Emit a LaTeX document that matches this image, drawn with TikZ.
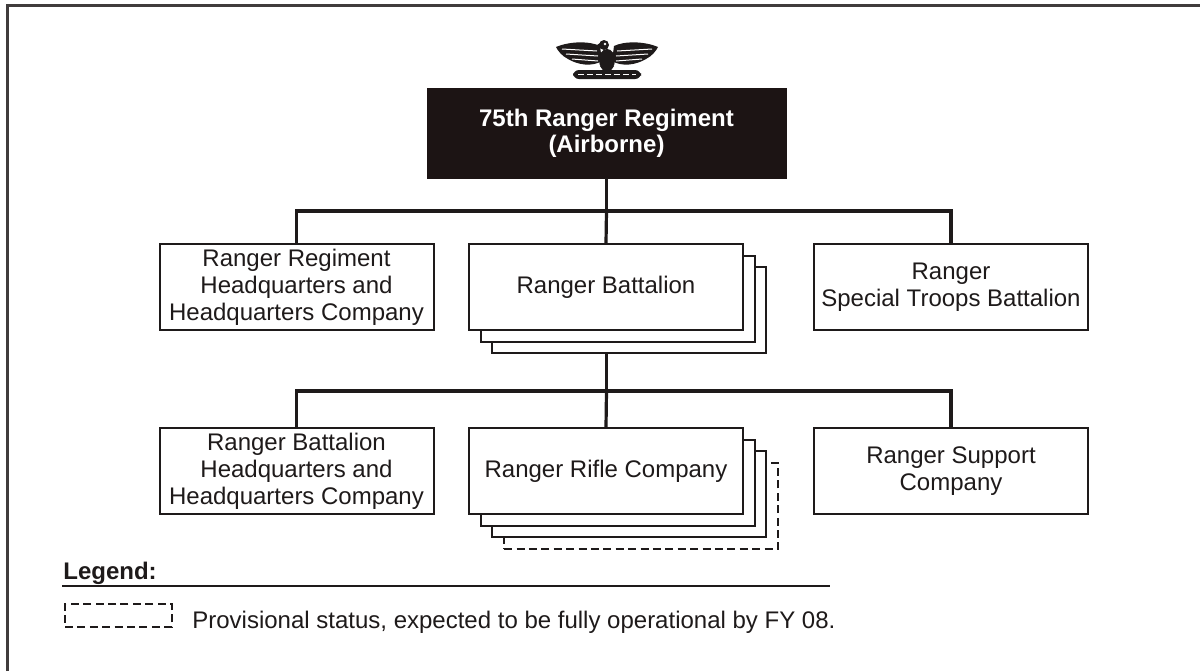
\documentclass[tikz,border=0pt]{standalone}
\usepackage{fontspec}
\setmainfont{Liberation Sans}
\definecolor{ink}{RGB}{30,26,26}
\definecolor{boxdark}{RGB}{28,20,20}
\begin{document}
\begin{tikzpicture}[x=0.5pt,y=-0.5pt,
  font=\fontsize{12}{13.5}\selectfont,
  unitbox/.style={draw=ink, line width=1pt, fill=white, minimum width=137pt, minimum height=43pt, inner sep=0pt, align=center, text=ink},
  backbox/.style={draw=ink, line width=1pt, fill=white, minimum width=137pt, minimum height=43pt, inner sep=0pt},
  provbox/.style={draw=ink, line width=1pt, dash pattern=on 4pt off 2.2pt, fill=white, minimum width=137pt, minimum height=43pt, inner sep=0pt},
  conn/.style={draw=ink, line width=1.6pt},
  frameline/.style={draw=ink!85, line width=1.5pt}]
\useasboundingbox (0,0) rectangle (1200,671);
\fill[white] (0,0) rectangle (1200,671);
% frame
\coordinate (fa) at (7,671);
\coordinate (fb) at (7,5);
\coordinate (fc) at (1200,5);
\draw[frameline] (fa) -- (fb) -- (fc);

% eagle insignia
\begin{scope}[ink]
\fill (556,47) .. controls (570,41) and (590,41) .. (600,46) -- (602,61) .. controls (592,67) and (578,65) .. (568,59) .. controls (562,56) and (558,51) .. cycle;
\fill (658,47) .. controls (644,41) and (624,41) .. (614,46) -- (612,61) .. controls (622,67) and (636,65) .. (646,59) .. controls (652,56) and (656,51) .. cycle;
\fill (607,60) ellipse (8 and 11);
\fill (604,45) circle (5);
\fill (600,43) -- (594,47) -- (601,48) -- cycle;
\fill (600,66) -- (614,66) -- (607,76) -- cycle;
\fill[rounded corners=3] (573,70) rectangle (641,79);
\end{scope}
\begin{scope}[white, line width=0.5pt]
\draw (562,49) -- (597,51);
\draw (566,54) -- (598,56);
\draw (572,59) -- (598,61);
\draw (652,49) -- (617,51);
\draw (648,54) -- (616,56);
\draw (642,59) -- (616,61);
\fill (605,44) circle (1.3);
\draw[dash pattern=on 3pt off 1.5pt] (578,74.5) -- (636,74.5);
\end{scope}

% top box
\node[fill=boxdark, draw=boxdark, minimum width=179.5pt, minimum height=45pt, inner sep=0pt, align=center, text=white, font=\fontsize{12}{13}\selectfont\bfseries] (top) at (606.5,133) {75th Ranger Regiment\\(Airborne)};

% level 1
\node[unitbox] (rhq) at (296.5,287) {Ranger Regiment\\Headquarters and\\Headquarters Company};
\node[backbox] (bnC) at (629.4,310.4) {};
\node[backbox] (bnB) at (617.7,298.7) {};
\node[unitbox] (bn) at (606,287) {Ranger Battalion};
\node[unitbox] (stb) at (951,287) {Ranger\\Special Troops Battalion};

% level 2
\node[unitbox] (bhq) at (296.5,471) {Ranger Battalion\\Headquarters and\\Headquarters Company};
\node[provbox] (rcD) at (641.1,506.1) {};
\node[backbox] (rcC) at (629.4,494.4) {};
\node[backbox] (rcB) at (617.7,482.7) {};
\node[unitbox] (rc) at (606,471) {Ranger Rifle Company};
\node[unitbox] (sup) at (951,471) {Ranger Support\\Company};

% connectors
\coordinate (j1) at (606.5,211);
\draw[conn] (top.south) -- (j1);
\draw[conn] (rhq.north) |- (j1) -| (stb.north);
\draw[conn] (j1) -- (bn.north);
\coordinate (j2) at (606.5,391);
\draw[conn] (j2 |- bnC.south) -- (j2);
\draw[conn] (bhq.north) |- (j2) -| (sup.north);
\draw[conn] (j2) -- (rc.north);

% legend
\node[anchor=base west, inner sep=0pt, text=ink, font=\fontsize{12}{13.5}\selectfont\bfseries] (leg) at (63,579) {Legend:};
\coordinate (la) at (62,586);
\coordinate (lb) at (830,586);
\draw[draw=ink, line width=1pt] (la) -- (lb);
\node[draw=ink, line width=1pt, dash pattern=on 4pt off 2.2pt, minimum width=53.5pt, minimum height=11.5pt, inner sep=0pt] (legbox) at (118.5,615.5) {};
\node[anchor=base west, inner sep=0pt, text=ink] (legtxt) at (192,628) {Provisional status, expected to be fully operational by FY 08.};
\end{tikzpicture}
\end{document}
